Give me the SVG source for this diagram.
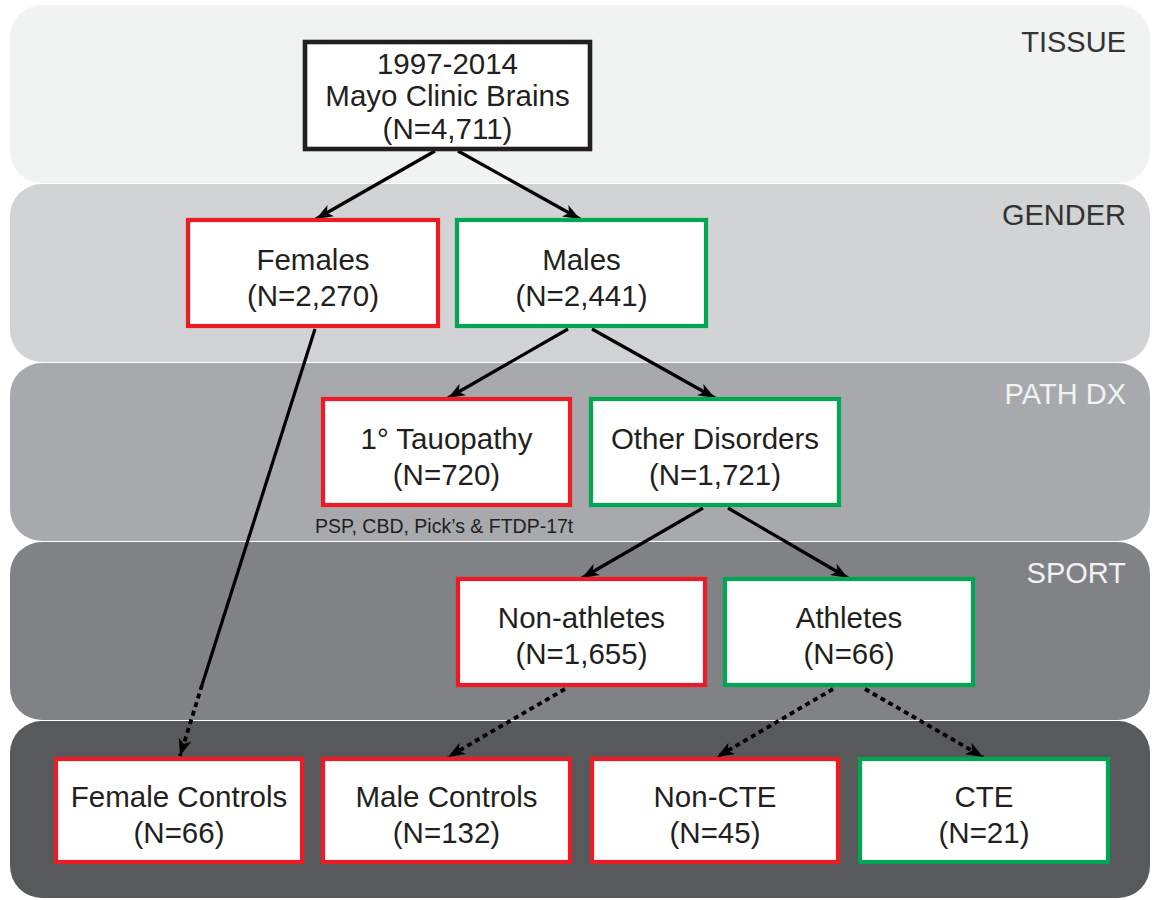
<svg xmlns="http://www.w3.org/2000/svg" width="1153" height="900" viewBox="0 0 1153 900">
<style>
.band{stroke:none}
.lbl{font-family:"Liberation Sans",Arial,sans-serif;font-size:29px;text-anchor:end}
.dark{fill:#333333}
.light{fill:#f1f2f2}
.box{fill:#ffffff;stroke-width:4.2}
.red{stroke:#ed1c24}
.green{stroke:#00a651}
.black{stroke:#231f20;stroke-width:4.6}
.t{font-family:"Liberation Sans",Arial,sans-serif;font-size:29.5px;fill:#231f20;text-anchor:middle}
.note{font-family:"Liberation Sans",Arial,sans-serif;font-size:19.5px;fill:#231f20}
.c{stroke:#000000;stroke-width:3.2;fill:none}
.dot{stroke-dasharray:5 4;stroke-width:3.8}
</style>
<defs>
<marker id="ah" markerUnits="userSpaceOnUse" markerWidth="18" markerHeight="14" refX="17" refY="7" orient="auto">
<path d="M0,0.5 L17,7 L0,13.5 L4.5,7 z" fill="#000000"/>
</marker>
</defs>
<rect width="1153" height="900" fill="#ffffff"/>
<g id="bands">
<rect class="band" x="10" y="5" width="1140" height="178" rx="32" fill="#f1f2f2"/>
<rect class="band" x="10" y="184" width="1140" height="178" rx="32" fill="#d1d3d4"/>
<rect class="band" x="10" y="363" width="1140" height="178" rx="32" fill="#a7a9ac"/>
<rect class="band" x="10" y="542" width="1140" height="178" rx="32" fill="#808285"/>
<rect class="band" x="10" y="721" width="1140" height="177" rx="32" fill="#58595b"/>
<text class="lbl dark" x="1126" y="52">TISSUE</text>
<text class="lbl dark" x="1126" y="225">GENDER</text>
<text class="lbl light" x="1126" y="404">PATH DX</text>
<text class="lbl light" x="1126" y="583">SPORT</text>
</g>
<g id="connectors">
<line class="c" x1="435" y1="151" x2="316" y2="219" marker-end="url(#ah)"/>
<line class="c" x1="458" y1="151" x2="580" y2="219" marker-end="url(#ah)"/>
<line class="c" x1="315" y1="329" x2="202" y2="685"/>
<line class="c dot" x1="202" y1="685" x2="180" y2="756" marker-end="url(#ah)"/>
<line class="c" x1="568" y1="329" x2="448" y2="398" marker-end="url(#ah)"/>
<line class="c" x1="592" y1="329" x2="715" y2="398" marker-end="url(#ah)"/>
<line class="c" x1="703" y1="508" x2="582" y2="578" marker-end="url(#ah)"/>
<line class="c" x1="728" y1="508" x2="848" y2="578" marker-end="url(#ah)"/>
<line class="c dot" x1="565" y1="689" x2="448" y2="757" marker-end="url(#ah)"/>
<line class="c dot" x1="833" y1="689" x2="717" y2="757" marker-end="url(#ah)"/>
<line class="c dot" x1="865" y1="689" x2="983" y2="757" marker-end="url(#ah)"/>
</g>
<g id="root">
<rect class="box black" x="305" y="42" width="285" height="107"/>
<text class="t" x="447.5" y="74">1997-2014</text>
<text class="t" x="447.5" y="106">Mayo Clinic Brains</text>
<text class="t" x="447.5" y="139">(N=4,711)</text>
</g>
<g id="females">
<rect class="box red" x="188" y="220" width="250" height="106"/>
<text class="t" x="313" y="270">Females</text>
<text class="t" x="313" y="306">(N=2,270)</text>
</g>
<g id="males">
<rect class="box green" x="457" y="220" width="249" height="106"/>
<text class="t" x="581.5" y="270">Males</text>
<text class="t" x="581.5" y="306">(N=2,441)</text>
</g>
<g id="tauopathy">
<rect class="box red" x="323" y="399" width="247" height="106"/>
<text class="t" x="446.5" y="449">1° Tauopathy</text>
<text class="t" x="446.5" y="485">(N=720)</text>
<text class="note" x="315" y="533">PSP, CBD, Pick’s &amp; FTDP-17t</text>
</g>
<g id="other">
<rect class="box green" x="591" y="399" width="248" height="106"/>
<text class="t" x="715" y="449">Other Disorders</text>
<text class="t" x="715" y="485">(N=1,721)</text>
</g>
<g id="nonathletes">
<rect class="box red" x="458" y="579" width="247" height="106"/>
<text class="t" x="581.5" y="628">Non-athletes</text>
<text class="t" x="581.5" y="664">(N=1,655)</text>
</g>
<g id="athletes">
<rect class="box green" x="725" y="579" width="248" height="106"/>
<text class="t" x="849" y="628">Athletes</text>
<text class="t" x="849" y="664">(N=66)</text>
</g>
<g id="femalecontrols">
<rect class="box red" x="56" y="759" width="246" height="103"/>
<text class="t" x="179" y="807">Female Controls</text>
<text class="t" x="179" y="843">(N=66)</text>
</g>
<g id="malecontrols">
<rect class="box red" x="323" y="759" width="247" height="103"/>
<text class="t" x="446.5" y="807">Male Controls</text>
<text class="t" x="446.5" y="843">(N=132)</text>
</g>
<g id="noncte">
<rect class="box red" x="592" y="759" width="246" height="103"/>
<text class="t" x="715" y="807">Non-CTE</text>
<text class="t" x="715" y="843">(N=45)</text>
</g>
<g id="cte">
<rect class="box green" x="860" y="759" width="248" height="103"/>
<text class="t" x="984" y="807">CTE</text>
<text class="t" x="984" y="843">(N=21)</text>
</g>
</svg>
